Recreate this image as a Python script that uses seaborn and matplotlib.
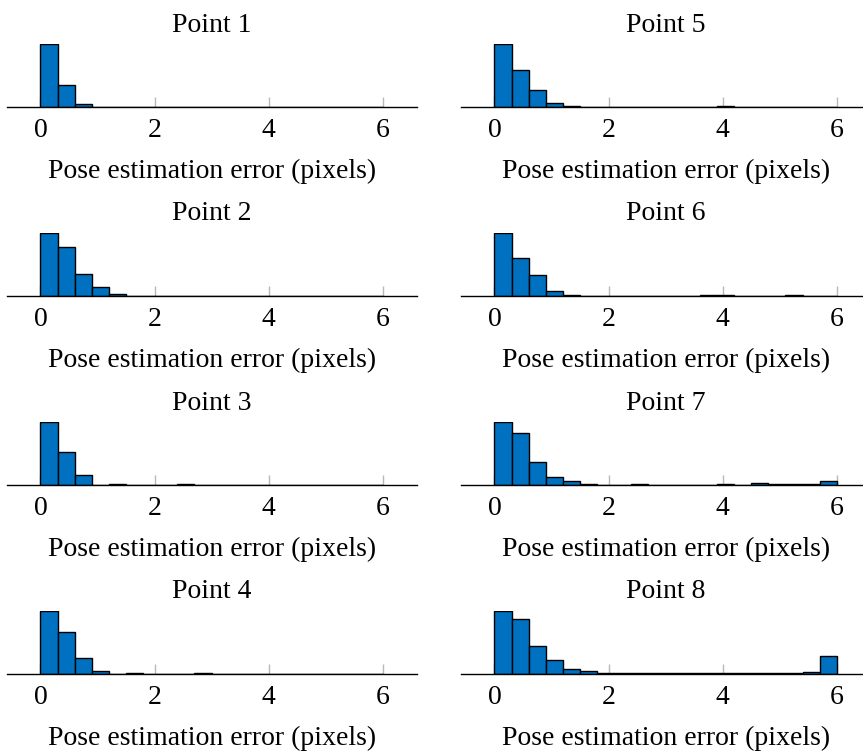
import numpy as np
import pandas as pd
import matplotlib
matplotlib.use("Agg")
import matplotlib.pyplot as plt
import seaborn as sns

# bin edges (pixels of pose error), 20 bins of 0.3 from 0 to 6
bin_edges = [round(0.3 * i, 1) for i in range(21)]
tick_values = [0, 2, 4, 6]
xlabel_text = "Pose estimation error (pixels)"

# relative bar heights (tallest bar = 100)
point1 = [100, 35, 4.8, 0.5, 0, 0, 0, 0, 0, 0, 0, 0, 0, 0, 0, 0, 0, 0, 0, 0]
point2 = [100, 78, 35, 14, 3.2, 0, 0, 0, 0, 0, 0, 0, 0, 0, 0, 0, 0, 0, 0, 0]
point3 = [100, 52, 16, 0.5, 1.1, 0, 0.5, 0.5, 1.1, 0, 0.5, 0, 0, 0, 0, 0, 0, 0, 0, 0]
point4 = [100, 67, 25, 4.8, 0.5, 0.8, 0, 0, 0, 0.8, 0.5, 0, 0, 0.5, 0, 0, 0, 0, 0, 0]
point5 = [100, 58, 27.5, 6.3, 2.1, 0, 0.5, 0, 0.5, 0.5, 0.5, 0, 0.5, 1.6, 0.5, 0, 0.5, 0, 0, 0]
point6 = [100, 61, 34, 8.4, 1.6, 0.5, 0, 0, 0.5, 0.5, 0, 0.5, 1.1, 1.1, 0.5, 0, 0.5, 1.1, 0.5, 0.5]
point7 = [100, 83, 37, 12.7, 6.8, 1.1, 0.5, 0, 1.1, 0.5, 0, 0.5, 0.5, 1.1, 0, 3.2, 2.1, 2.1, 1.1, 6.8]
point8 = [100, 87, 44, 23, 7.4, 4.8, 2.1, 0.8, 1.1, 0.8, 0.8, 1.6, 0.8, 1.1, 1.1, 1.1, 2.1, 1.1, 3.2, 29]

titles = ["Point 1", "Point 2", "Point 3", "Point 4",
          "Point 5", "Point 6", "Point 7", "Point 8"]
series = [point1, point2, point3, point4, point5, point6, point7, point8]

sns.set_theme(style="white")
plt.rcParams["font.family"] = ["Liberation Serif", "DejaVu Serif"]
plt.rcParams["text.color"] = "black"
plt.rcParams["axes.labelcolor"] = "black"
plt.rcParams["xtick.color"] = "black"

W, H = 863, 754
fig = plt.figure(figsize=(W / 100, H / 100), dpi=100)

baselines = [107, 296, 485, 674]
bar_h = 63
col_left = [7, 461]
ax_w = 410

centers = [(bin_edges[i] + bin_edges[i + 1]) / 2 for i in range(20)]

for idx, (title, vals) in enumerate(zip(titles, series)):
    col = idx // 4
    row = idx % 4
    left = col_left[col] / W
    bottom = 1 - baselines[row] / H
    ax = fig.add_axes([left, bottom, ax_w / W, bar_h / H])
    df = pd.DataFrame({"err": centers, "w": vals})
    sns.histplot(data=df, x="err", weights="w", bins=bin_edges, ax=ax,
                 color="#0070C0", edgecolor="black", linewidth=1.0, alpha=1.0)
    ax.set_xlim(-0.586, 6.6)
    ax.set_ylim(0, max(vals))
    for s in ["top", "left", "right"]:
        ax.spines[s].set_visible(False)
    ax.spines["bottom"].set_color("black")
    ax.spines["bottom"].set_linewidth(1.0)
    ax.set_yticks([])
    ax.set_ylabel("")
    ax.set_xticks(tick_values)
    ax.set_xticklabels([str(t) for t in tick_values])
    ax.tick_params(axis="x", bottom=True, direction="in", length=7, width=1,
                   color="#b8b8b8", labelsize=20, pad=8, labelcolor="black")
    ax.set_xlabel(xlabel_text, fontsize=20, labelpad=11, color="black")
    ax.set_title(title, fontsize=20, pad=9, color="black")
    ax.patch.set_alpha(0)

fig.savefig("out.png", dpi=100)
